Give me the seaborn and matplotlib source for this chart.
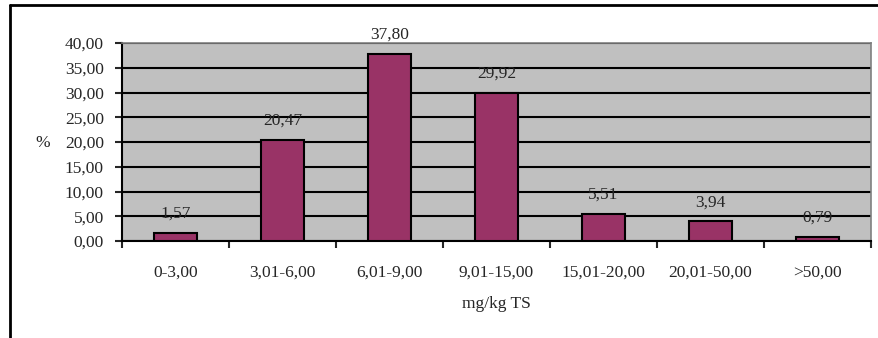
import matplotlib
matplotlib.use("Agg")
import matplotlib.pyplot as plt
import seaborn as sns
import pandas as pd
from matplotlib.lines import Line2D
from matplotlib.ticker import FixedLocator, FuncFormatter

categories = ["0-3,00", "3,01-6,00", "6,01-9,00", "9,01-15,00", "15,01-20,00", "20,01-50,00", ">50,00"]
values = [1.57, 20.47, 37.80, 29.92, 5.51, 3.94, 0.79]
y_ticks = [0, 5, 10, 15, 20, 25, 30, 35, 40]
x_title = "mg/kg TS"
y_title = "%"

sns.set_style("white")
plt.rcParams['font.family'] = ['Liberation Serif', 'DejaVu Serif']
FS = 12.5

df = pd.DataFrame({"cat": categories, "val": values})

W, H = 879, 338
fig = plt.figure(figsize=(W / 100, H / 100), dpi=100)
fig.patch.set_facecolor("white")
ax = fig.add_axes([122 / W, 1 - 241 / H, (871 - 122) / W, (241 - 43) / H])
ax.set_facecolor("#C0C0C0")

sns.barplot(data=df, x="cat", y="val", color="#993366", edgecolor="black",
            linewidth=1.5, width=0.4, saturation=1, ax=ax, zorder=3)

ax.set_ylim(0, 40)
ax.set_xlim(-0.5, len(categories) - 0.5)
ax.set_yticks(y_ticks)
ax.yaxis.set_major_formatter(FuncFormatter(lambda v, p: f"{v:.2f}".replace(".", ",")))
ax.grid(axis="y", color="black", linewidth=1.5, zorder=1)
ax.set_axisbelow(True)

for s in ["top", "right"]:
    ax.spines[s].set_color("#808080")
    ax.spines[s].set_linewidth(1.2)
for s in ["left", "bottom"]:
    ax.spines[s].set_color("black")
    ax.spines[s].set_linewidth(1.5)

ax.tick_params(axis="y", direction="out", length=5, width=1.5, pad=8, labelsize=FS, left=True)
ax.tick_params(axis="x", which="major", length=0, pad=17, labelsize=FS)
ax.xaxis.set_minor_locator(FixedLocator([i - 0.5 for i in range(len(categories) + 1)]))
ax.tick_params(axis="x", which="minor", direction="out", length=5, width=1.5, bottom=True)

for c in ax.containers:
    ax.bar_label(c, labels=[f"{v:.2f}".replace(".", ",") for v in values], padding=8, fontsize=FS)

ax.set_xlabel(x_title, labelpad=11, fontsize=FS)
ax.set_ylabel(y_title, rotation=0, fontsize=FS, va="center", ha="center")
ax.yaxis.set_label_coords((43 - 122) / (871 - 122), (241 - 143) / (241 - 43))

fig.add_artist(Line2D([10 / W, 1], [1 - 5 / H, 1 - 5 / H], color="black", linewidth=2, transform=fig.transFigure))
fig.add_artist(Line2D([10 / W, 10 / W], [0, 1 - 5 / H], color="black", linewidth=2, transform=fig.transFigure))

fig.savefig("out.png", dpi=100, facecolor="white")
